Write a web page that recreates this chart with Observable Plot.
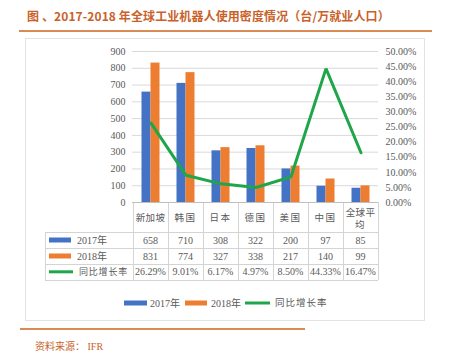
<!DOCTYPE html>
<html><head><meta charset="utf-8">
<script src="https://cdn.jsdelivr.net/npm/d3@7"></script>
<script src="https://cdn.jsdelivr.net/npm/@observablehq/plot@0.6"></script>
<style>
body{margin:0;background:#fff;}
#page{position:relative;width:449px;height:356px;overflow:hidden;background:#fff;}
</style>
</head><body><div id="page"></div>
<script>
const titleText = "图 、2017-2018 年全球工业机器人使用密度情况（台/万就业人口）";
const sourceText = "资料来源： IFR";
const categories = ["新加坡","韩国","日本","德国","美国","中国","全球平均"];
const values2017 = [658,710,308,322,200,97,85];
const values2018 = [831,774,327,338,217,140,99];
const growth = [0.2629,0.0901,0.0617,0.0497,0.0850,0.4433,0.1647];
const seriesNames = ["2017年","2018年","同比增长率"];
const leftTicks = [0,100,200,300,400,500,600,700,800,900];
const rightTicks = [0,0.05,0.10,0.15,0.20,0.25,0.30,0.35,0.40,0.45,0.50];

const C17 = "#4472C4", C18 = "#ED7D31", CG = "#1FA54A", ACC = "#C9622A";
const TXT = "#595959";
const serif = "'Liberation Serif','Noto Sans CJK SC',serif";
const cjk = "'Noto Sans CJK SC',sans-serif";
const RATE_MAX = 0.5, Y_MAX = 900;

const data = categories.map((c,i)=>({cat:c, v2017:values2017[i], v2018:values2018[i], g:growth[i]}));

const page = d3.select("#page");
const svg = page.append("svg").attr("width",449).attr("height",356)
  .style("position","absolute").style("left","0px").style("top","0px");

const chart = Plot.plot({
  width:449, height:172,
  marginLeft:132, marginRight:71, marginTop:11, marginBottom:10,
  style:{background:"transparent", fontFamily:serif, fontSize:"10px", color:TXT},
  x:{type:"band", domain:categories, padding:0, axis:null},
  y:{domain:[0,Y_MAX], axis:null},
  marks:[
    Plot.ruleY(leftTicks.filter(d=>d>0), {stroke:"#d9d9d9", strokeWidth:1}),
    Plot.ruleY([0], {stroke:"#bfbfbf", strokeWidth:1}),
    Plot.barY(data, {x:"cat", y:"v2017", fill:C17, insetLeft:8.5, insetRight:17.5}),
    Plot.barY(data, {x:"cat", y:"v2018", fill:C18, insetLeft:17.5, insetRight:8.5}),
    Plot.lineY(data, {x:"cat", y:d=>d.g/RATE_MAX*Y_MAX, stroke:CG, strokeWidth:3, strokeLinejoin:"miter"}),
    Plot.text(leftTicks, {y:d=>d, frameAnchor:"left", dx:-7, textAnchor:"end", text:d=>String(d), fill:TXT}),
    Plot.text(rightTicks, {y:d=>d/RATE_MAX*Y_MAX, frameAnchor:"right", dx:7, textAnchor:"start", text:d=>(d*100).toFixed(2)+"%", fill:TXT})
  ]
});
chart.style.position="absolute"; chart.style.left="0px"; chart.style.top="40px";
document.getElementById("page").appendChild(chart);

// title and rules
svg.append("text").attr("x",27).attr("y",15).attr("dominant-baseline","central")
  .attr("font-family",cjk).attr("font-weight","bold").attr("font-size",12).attr("letter-spacing",0.1).attr("fill",ACC).text(titleText);
svg.append("line").attr("x1",19).attr("x2",432).attr("y1",31).attr("y2",31).attr("stroke","#D98A55").attr("stroke-width",2);
svg.append("rect").attr("x",25.5).attr("y",38.5).attr("width",399).attr("height",282)
  .attr("fill","none").attr("stroke","#e3e3e3");

// data table, columns from Plot's x scale
const xs = chart.scale("x");
const bw = xs.bandwidth;
const colX = categories.map(c=>xs.apply(c));
const xEnd = colX[colX.length-1]+bw;
const tLeft = 45;
const rowLines = [232,248,264,279.5];
const gridC = "#d4d4d4";
rowLines.forEach(y=>svg.append("line").attr("x1",tLeft).attr("x2",xEnd).attr("y1",Math.round(y)+0.5).attr("y2",Math.round(y)+0.5).attr("stroke",gridC));
svg.append("line").attr("x1",tLeft+0.5).attr("x2",tLeft+0.5).attr("y1",232).attr("y2",280).attr("stroke",gridC);
[...colX, xEnd].forEach(x=>svg.append("line").attr("x1",Math.round(x)+0.5).attr("x2",Math.round(x)+0.5).attr("y1",202).attr("y2",280).attr("stroke",gridC));

// header
categories.forEach((c,i)=>{
  const cx = colX[i]+bw/2;
  const lines = c.length>3 ? [c.slice(0,3), c.slice(3)] : [c];
  lines.forEach((l,j)=>{
    svg.append("text").attr("x",cx).attr("y", lines.length>1 ? 211.5+j*12.5 : 217)
      .attr("text-anchor","middle").attr("dominant-baseline","central")
      .attr("font-family",cjk).attr("font-size",9.5).attr("letter-spacing",l.length>2?0.3:1.5).attr("fill",TXT).text(l);
  });
});
const rowCenters = [240,256,271.8];
const rowVals = [values2017.map(String), values2018.map(String), growth.map(g=>(g*100).toFixed(2)+"%")];
rowVals.forEach((vals,r)=>vals.forEach((v,i)=>{
  svg.append("text").attr("x",colX[i]+bw/2).attr("y",rowCenters[r]).attr("text-anchor","middle")
    .attr("dominant-baseline","central").attr("font-family",serif).attr("font-size",10).attr("fill",TXT).text(v);
}));
// row keys
svg.append("rect").attr("x",49).attr("y",rowCenters[0]-2.5).attr("width",22).attr("height",5).attr("fill",C17);
svg.append("rect").attr("x",49).attr("y",rowCenters[1]-2.5).attr("width",22).attr("height",5).attr("fill",C18);
svg.append("line").attr("x1",49).attr("x2",73).attr("y1",rowCenters[2]).attr("y2",rowCenters[2]).attr("stroke",CG).attr("stroke-width",3);
[[77,0],[77,1],[79,2]].forEach(([x,r])=>{
  svg.append("text").attr("x",x).attr("y",rowCenters[r]).attr("dominant-baseline","central")
    .attr("font-family",serif).attr("font-size",r===2?9:10).attr("letter-spacing", r===2?0.8:0).attr("fill",TXT).text(seriesNames[r]);
});

// legend
const ly = 303;
svg.append("rect").attr("x",124).attr("y",ly-2.5).attr("width",23).attr("height",5).attr("fill",C17);
svg.append("rect").attr("x",185).attr("y",ly-2.5).attr("width",22).attr("height",5).attr("fill",C18);
svg.append("line").attr("x1",245).attr("x2",270).attr("y1",ly).attr("y2",ly).attr("stroke",CG).attr("stroke-width",3);
[[150,0],[211,1],[275,2]].forEach(([x,r])=>{
  svg.append("text").attr("x",x).attr("y",ly).attr("dominant-baseline","central")
    .attr("font-family",serif).attr("font-size",r===2?9.5:10).attr("letter-spacing", r===2?1:0).attr("fill",TXT).text(seriesNames[r]);
});

// bottom rule and source
svg.append("line").attr("x1",20).attr("x2",305).attr("y1",329).attr("y2",329).attr("stroke","#D98A55").attr("stroke-width",2);
svg.append("text").attr("x",35).attr("y",346).attr("dominant-baseline","central")
  .attr("font-family",serif).attr("font-size",10).attr("fill",ACC).text(sourceText);
</script>
</body></html>
